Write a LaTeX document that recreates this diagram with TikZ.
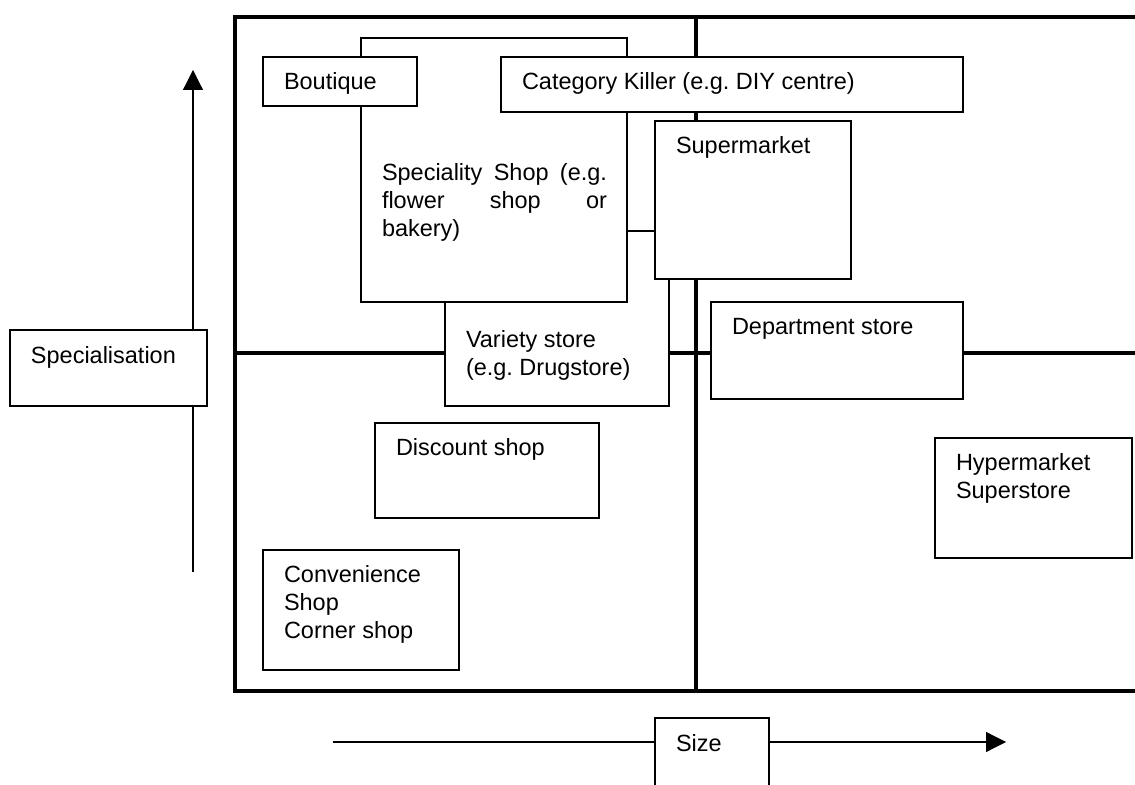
\documentclass[tikz,border=0pt]{standalone}
\usepackage{fontspec}
\setmainfont{Liberation Sans}
\frenchspacing
\usetikzlibrary{fit,arrows.meta}
\begin{document}
\begin{tikzpicture}[x=0.5pt,y=-0.5pt,
  frame/.style={line width=2.2pt},
  shop/.style={draw, fill=white, line width=0.6pt, inner sep=0pt, outer sep=0pt},
  txt/.style={anchor=base west, inner sep=0pt, outer sep=0pt, align=left,
              font=\fontsize{11.74}{14}\selectfont},
  axis/.style={line width=0.6pt, -{Triangle[length=10pt,width=10pt]}}]
\useasboundingbox (0,0) rectangle (1135,785);
% quadrant frame
\draw[frame] (1160,17) -- (235,17) -- (235,691) -- (1160,691);
\draw[frame] (696,17) -- (696,691);
\draw[frame] (235,353) -- (1160,353);
% axes
\coordinate (vbot) at (193,572);
\coordinate (vtop) at (193,70);
\coordinate (hstart) at (333,742);
\coordinate (hend) at (1006,742);
\draw[axis] (vbot) -- (vtop);
\draw[axis] (hstart) -- (hend);
% boxes (back to front); base anchor of a multi-line text is its last line
\node[shop, fit={(445,231) (669,406)}] (variety) {};
\node[txt] (varietyT) at ([shift={(21,145)}]variety.north west) {Variety store\\(e.g. Drugstore)};
\node[shop, fit={(361,38) (627,302)}] (speciality) {};
\node[txt] (specialityT) at ([shift={(21,199)}]speciality.north west)
  {\hbox to 112.5pt{Speciality\hfill Shop\hfill (e.g.}\\\hbox to 112.5pt{flower\hfill shop\hfill or}\\bakery)};
\node[shop, fit={(655,121) (851,279)}] (supermarket) {};
\node[txt] at ([shift={(21,33)}]supermarket.north west) {Supermarket};
\node[shop, fit={(263,57) (417,106)}] (boutique) {};
\node[txt] at ([shift={(21,33)}]boutique.north west) {Boutique};
\node[shop, fit={(501,57) (963,112)}] (killer) {};
\node[txt] at ([shift={(21,33)}]killer.north west) {Category Killer (e.g. DIY centre)};
\node[shop, fit={(711,302) (963,399)}] (department) {};
\node[txt] at ([shift={(21,33)}]department.north west) {Department store};
\node[shop, fit={(375,423) (599,518)}] (discount) {};
\node[txt] at ([shift={(21,33)}]discount.north west) {Discount shop};
\node[shop, fit={(263,550) (459,670)}] (convenience) {};
\node[txt] at ([shift={(21,89)}]convenience.north west) {Convenience\\Shop\\Corner shop};
\node[shop, fit={(935,438) (1132,558)}] (hyper) {};
\node[txt] at ([shift={(21,61)}]hyper.north west) {Hypermarket\\Superstore};
\node[shop, fit={(10,330) (207,406)}] (specialisation) {};
\node[txt] at ([shift={(21,34)}]specialisation.north west) {Specialisation};
\node[shop, fit={(655,718) (769,830)}] (size) {};
\node[txt] at ([shift={(21,33)}]size.north west) {Size};
\end{tikzpicture}
\end{document}
